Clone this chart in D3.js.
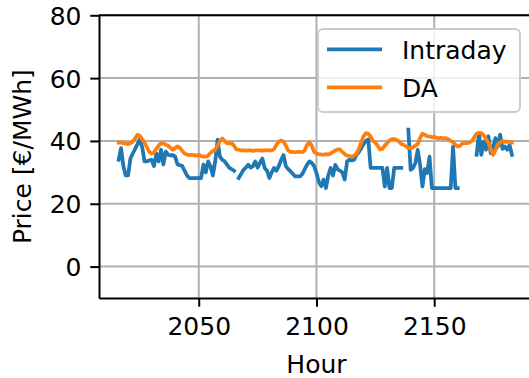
<!DOCTYPE html>
<html>
<head>
<meta charset="utf-8">
<script src="https://cdn.jsdelivr.net/npm/d3@7"></script>
<style>
  body { margin: 0; background: #fff; }
  svg { display: block; font-family: "DejaVu Sans", sans-serif; }
</style>
</head>
<body>
<svg id="chart"></svg>
<script>
// First hour of the plotted week, one value per hour after it
const startHour = 2016;

const intraday = [
  34, 37.7, 32, 29, 29, 34.5, 36, 37.5, 39, 40.5,
  38, 33.5, 33.5, 33.8, 34, 32, 36, 33.5, 37.2, 32.5,
  36.6, 35.6, 35.4, 35.5, 35, 32.5, 32.3, 32, 30.5, 29,
  28.2, 28.2, 28.2, 28.2, 28.2, 28.2, 32.5, 30, 33.5, 31.9,
  29, 33.5, 40.4, 35, 34, 33.5, 32.5, 31.4, 31, 30.5,
  null, 28.2, 29.5, 30.8, 31.5, 32.4, 31.5, 32, 33.5, 31.5,
  33, 34.4, 31.4, 30.5, 28.2, 30, 31.4, 30.5, 32, 34,
  35.5, 32, 31, 30.3, 29.5, 28.7, 28.7, 28.7, 29.5, 31,
  32.4, 33.5, 33, 32, 29.8, 27, 25.6, 27.7, 25, 29,
  31.4, 29, 32.4, 31, 30.5, 30, 27.7, 33.5, 34, 33.8,
  34, 35.6, 36.5, 37.7, 39, 40, 40.5, 31.4, 31.4, 31.4,
  31.4, 31.4, 31.4, 25.5, 31.4, 25, 25, 31.4, 31.4, 31.4,
  31.4, null, null, 43.6, 30.8, 31.4, 33, 37.2, 32.4, 25.5,
  31, 29.8, 35, 25, 25, 25, 25, 25, 25, 25,
  25, 25, 38.2, 25, 25, null, null, null, null, null,
  null, null, 35.6, 42.5, 35.6, 39.8, 37.2, 41.5, 36.1, 38,
  40.9, 38.2, 42, 37.5, 38.2, 37.2, 38.7, 35.6
];

const dayAhead = [
  39.5, 39.5, 39.3, 39.2, 39, 39.3, 39.8, 40.8, 42, 41.6,
  40.5, 39.5, 38, 36.5, 36, 36.3, 37.5, 38.5, 39.3, 39.2,
  38.8, 38.5, 37.8, 37.2, 37.8, 38.3, 37.8, 36.8, 36, 35.7,
  35.5, 35.6, 35.5, 35.3, 35.6, 35.2, 35, 35, 35.3, 36.2,
  36.8, 37.2, 38.5, 40, 40.8, 40, 39.3, 39.2, 39.3, 38.5,
  37.3, 37.2, 37, 37, 36.9, 37, 37, 36.8, 37, 37,
  37, 36.9, 37, 37.1, 37, 37, 37.4, 38.8, 39.8, 40.2,
  39.8, 38.5, 37, 36.5, 36.5, 36.4, 36.5, 36.5, 36.4, 37,
  38.8, 39.6, 38.5, 36.5, 36, 35.8, 35.7, 35.6, 35.8, 35.7,
  36, 36.5, 37, 37.3, 37.3, 36.5, 35.8, 35.3, 35.2, 35,
  35.3, 36, 37.5, 39.5, 41.5, 42.5, 42.3, 41.4, 40, 39.5,
  38.5, 37.3, 37.5, 38.5, 39.3, 40.2, 40.6, 40.6, 40.4, 39.8,
  39, 38.8, 38.3, 37.8, 37.7, 38, 38.5, 39, 41, 42.3,
  42, 41.5, 41.4, 41.2, 41.3, 41, 40.9, 41, 40.8, 40.9,
  40.5, 40, 39.6, 38.8, 38.2, 38.5, 39.2, 39.4, 39.3, 39.5,
  40, 41.2, 42.3, 42.6, 42.5, 41.8, 40.5, 39.5, 37.5, 35.6,
  37, 39, 39.5, 40, 39.8, 39.8, 39.6, 39.5
];

const seriesNames = ["Intraday", "DA"];
const xTicks = [2050, 2100, 2150];
const yTicks = [0, 20, 40, 60, 80];

// layout (matplotlib-ish, ~2.5 px per pt)
const W = 529, H = 378;
const plotLeft = 99, plotTop = 15.3, plotBottom = 298, plotRight = 531.6;
const fs = 25, tickLen = 8.75;
const colors = ["#1f77b4", "#ff7f0e"];

const svg = d3.select("#chart").attr("width", W).attr("height", H);

const lastHour = startHour + dayAhead.length - 1;
const pad = (lastHour - startHour) * 0.05;
const x = d3.scaleLinear().domain([startHour - pad, lastHour + pad]).range([plotLeft, plotRight]);
const y = d3.scaleLinear().domain([-10, 80]).range([plotBottom, plotTop]);

// grid
svg.append("g").selectAll("line").data(xTicks).enter().append("line")
    .attr("x1", d => x(d)).attr("x2", d => x(d))
    .attr("y1", plotTop).attr("y2", plotBottom)
    .attr("stroke", "#b0b0b0").attr("stroke-width", 2);
svg.append("g").selectAll("line").data(yTicks).enter().append("line")
    .attr("x1", plotLeft).attr("x2", plotRight)
    .attr("y1", d => y(d)).attr("y2", d => y(d))
    .attr("stroke", "#b0b0b0").attr("stroke-width", 2);

// lines
const line = d3.line()
    .defined(d => d != null)
    .x((d, i) => x(startHour + i))
    .y(d => y(d));

[intraday, dayAhead].forEach((s, k) => {
    svg.append("path")
        .datum(s)
        .attr("fill", "none")
        .attr("stroke", colors[k])
        .attr("stroke-width", 3.75)
        .attr("stroke-linejoin", "round")
        .attr("stroke-linecap", "square")
        .attr("d", line);
});

// axes
const xAxis = svg.append("g")
    .attr("transform", `translate(0,${plotBottom})`)
    .call(d3.axisBottom(x).tickValues(xTicks).tickFormat(d3.format("d"))
        .tickSizeInner(tickLen).tickSizeOuter(0).tickPadding(8.75));
const yAxis = svg.append("g")
    .attr("transform", `translate(${plotLeft},0)`)
    .call(d3.axisLeft(y).tickValues(yTicks)
        .tickSizeInner(tickLen).tickSizeOuter(0).tickPadding(8.75));

[xAxis, yAxis].forEach(g => {
    g.select(".domain").attr("stroke", "#000").attr("stroke-width", 2);
    g.selectAll(".tick line").attr("stroke", "#000").attr("stroke-width", 2);
    g.selectAll(".tick text")
        .attr("fill", "#000")
        .style("font-family", "DejaVu Sans")
        .style("font-size", fs + "px");
});
xAxis.selectAll(".tick text").attr("dy", null).attr("y", 37);
yAxis.selectAll(".tick text").attr("dy", "0.36em");

// top spine
svg.append("line")
    .attr("x1", plotLeft).attr("x2", plotRight)
    .attr("y1", plotTop).attr("y2", plotTop)
    .attr("stroke", "#000").attr("stroke-width", 2);

// axis labels
svg.append("text")
    .attr("x", x(2100)).attr("y", 372.5)
    .attr("text-anchor", "middle")
    .style("font-size", fs + "px")
    .text("Hour");

svg.append("text")
    .attr("transform", `translate(31,${(plotTop + plotBottom) / 2}) rotate(-90)`)
    .attr("text-anchor", "middle")
    .style("font-size", fs + "px")
    .text("Price [€/MWh]");

// legend
const legend = svg.append("g");
legend.append("rect")
    .attr("x", 318).attr("y", 29)
    .attr("width", 202).attr("height", 83)
    .attr("rx", 5).attr("ry", 5)
    .attr("fill", "#fff").attr("fill-opacity", 0.8)
    .attr("stroke", "#cccccc").attr("stroke-width", 2);

const entries = legend.selectAll(".entry")
    .data(seriesNames)
    .enter().append("g")
    .attr("class", "entry")
    .attr("transform", (d, i) => `translate(0,${49.3 + i * 38})`);

entries.append("line")
    .attr("x1", 327).attr("x2", 382)
    .attr("stroke", (d, i) => colors[i])
    .attr("stroke-width", 3.75);

entries.append("text")
    .attr("x", 402).attr("y", 9.5)
    .style("font-size", fs + "px")
    .text(d => d);
</script>
</body>
</html>
